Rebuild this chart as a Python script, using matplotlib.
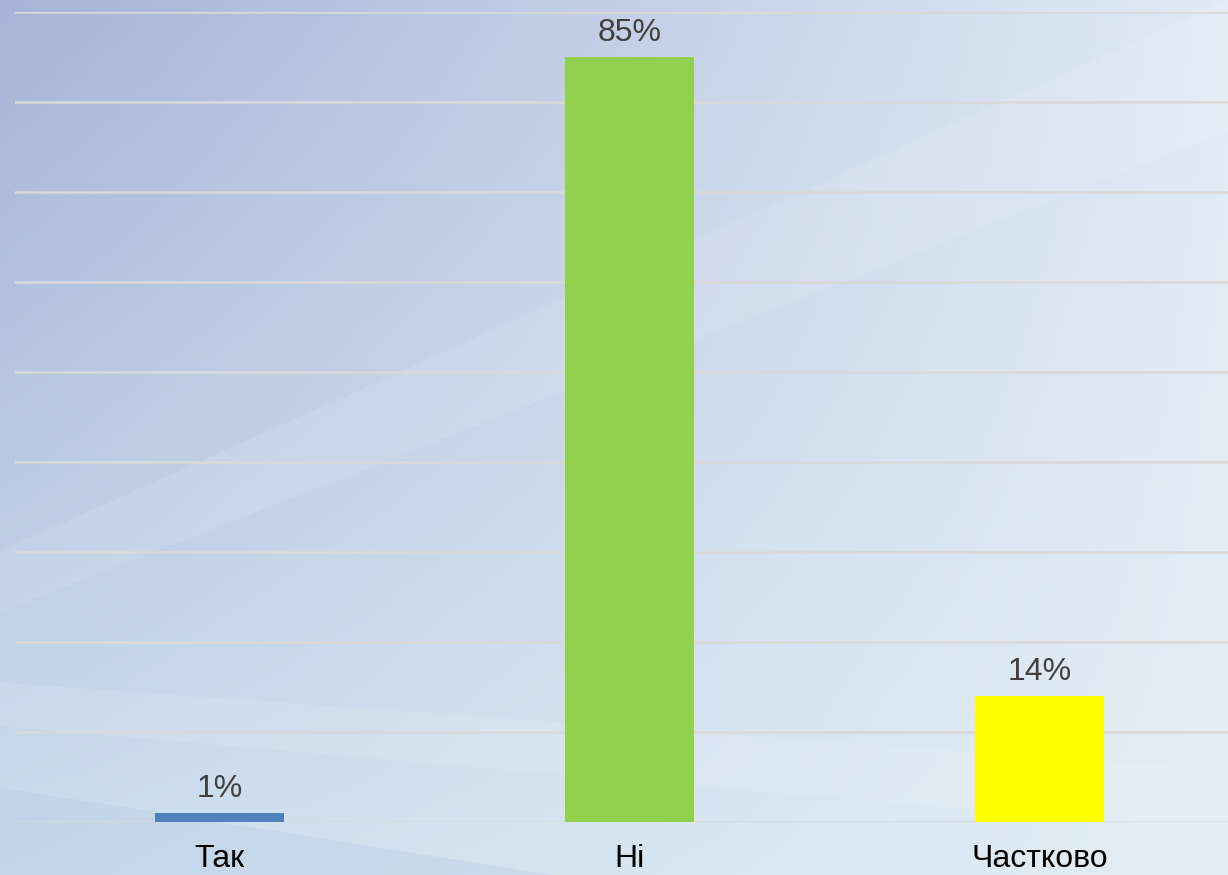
import numpy as np
import matplotlib
matplotlib.use('Agg')
import matplotlib.pyplot as plt
from matplotlib.patches import Polygon, Circle

categories = ['Так', 'Ні', 'Частково']
values = [1, 85, 14]
labels = ['1%', '85%', '14%']
colors = ['#4f81bd', '#92d050', '#ffff00']

plt.rcParams['font.family'] = ['Liberation Sans', 'DejaVu Sans']

fig = plt.figure(figsize=(12.28, 8.75), dpi=100)

# background gradient
bg = fig.add_axes([0, 0, 1, 1])
tl = np.array([0.655, 0.702, 0.847])
tr = np.array([0.88, 0.92, 0.96])
bl = np.array([0.80, 0.87, 0.93])
br = np.array([0.89, 0.93, 0.96])
yy, xx = np.mgrid[0:1:200j, 0:1:300j]
img = (tl[None, None] * ((1 - xx) * (1 - yy))[..., None]
       + tr[None, None] * (xx * (1 - yy))[..., None]
       + bl[None, None] * ((1 - xx) * yy)[..., None]
       + br[None, None] * (xx * yy)[..., None])
bg.imshow(img, extent=[0, 1, 0, 1], aspect='auto', origin='upper')
# light streaks
bg.add_patch(Polygon([[0, 0.37], [1, 1.0], [1, 0.85], [0, 0.30]], closed=True,
                     color='white', alpha=0.1, lw=0))
bg.add_patch(Polygon([[0, 0.22], [1, 0.12], [1, 0.05], [0, 0.17]], closed=True,
                     color='white', alpha=0.1, lw=0))
bg.add_patch(Polygon([[0, 0.10], [0.45, 0.0], [0, 0.0]], closed=True,
                     color='#b8cde4', alpha=0.4, lw=0))
bg.add_patch(Circle((1.08, -0.06), 0.1, color='#1f4f9a', lw=0))
bg.set_xlim(0, 1)
bg.set_ylim(0, 1)
bg.axis('off')

ax = fig.add_axes([14.5 / 1228, 53 / 875, 1230 / 1228, 810 / 875])
ax.patch.set_alpha(0)
x = np.arange(len(categories))
bars = ax.bar(x, values, width=0.315, color=colors, zorder=3)
for xi, v, lab in zip(x, values, labels):
    ax.text(xi, v + 1.05, lab, ha='center', va='bottom', fontsize=23, color='#404040')

ax.set_xlim(-0.5, 2.5)
ax.set_ylim(0, 90)
ax.set_yticks(np.arange(0, 91, 10))
ax.yaxis.grid(True, color='#d9d9d9', lw=1.8, zorder=0)
ax.tick_params(axis='y', left=False, labelleft=False)
ax.tick_params(axis='x', bottom=False, labelsize=23, pad=12, colors='black')
ax.set_xticks(x)
ax.set_xticklabels(categories)
for s in ax.spines.values():
    s.set_visible(False)

fig.savefig('out.png', dpi=100)
